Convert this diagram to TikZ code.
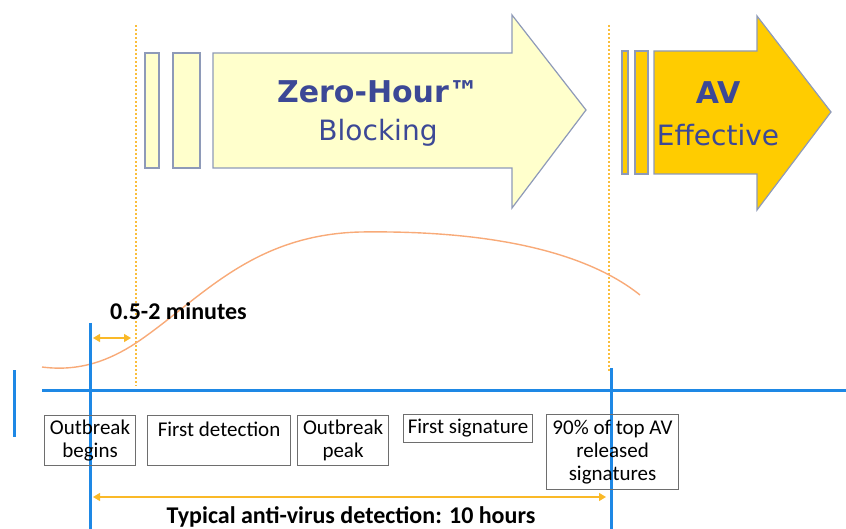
\documentclass[tikz,border=0pt]{standalone}
\usepackage{fontspec}
\setmainfont{Carlito}
\newfontfamily\arrowfont{DejaVu Sans}
\usetikzlibrary{arrows.meta}
\definecolor{paleyel}{RGB}{255,255,204}
\definecolor{gold}{RGB}{255,204,0}
\definecolor{outl}{RGB}{142,154,184}
\definecolor{navy}{RGB}{60,72,150}
\definecolor{blueln}{RGB}{30,136,229}
\definecolor{dotor}{RGB}{250,190,60}
\definecolor{curveor}{RGB}{248,170,120}
\definecolor{arror}{RGB}{250,185,40}
\definecolor{boxgr}{RGB}{110,110,110}
\tikzset{
  arrshape/.style={draw=outl, line width=1.2pt},
  bigtxt/.style={font=\arrowfont\fontsize{30}{32}\selectfont\bfseries, text=navy, inner sep=0pt},
  smalltxt/.style={font=\arrowfont\fontsize{28}{30}\selectfont, text=navy, inner sep=0pt},
  timeline/.style={draw=blueln, line width=3pt},
  guide/.style={draw=dotor, line width=1.3pt, dash pattern=on 2pt off 2pt},
  evbox/.style={draw=boxgr, line width=1.1pt, inner xsep=1pt, inner ysep=0pt, font=\fontsize{21}{23}\selectfont, align=center, anchor=north west},
  span/.style={draw=arror, line width=1.3pt, {Triangle[width=8pt,length=7pt]}-{Triangle[width=8pt,length=7pt]}},
  lbl/.style={font=\fontsize{24}{26}\selectfont\bfseries, inner sep=0pt}
}
\begin{document}
\begin{tikzpicture}[x=1pt,y=-1pt]
\useasboundingbox (0,0) rectangle (846,529);
% guides
\draw[guide] (136,25) -- (136,386);
\draw[guide] (609,25) -- (609,372);
% Zero-hour arrow
\draw[arrshape, fill=paleyel] (145,53) rectangle (159,168);
\draw[arrshape, fill=paleyel] (173,53) rectangle (200,168);
\draw[arrshape, fill=paleyel] (213,53) -- (512,53) -- (512,15) -- (586,110) -- (512,208) -- (512,168) -- (213,168) -- cycle;
\node[bigtxt] (zh) at (378,92) {Zero-Hour™};
\node[smalltxt] (blk) at (378,133) {Blocking};
% AV arrow
\draw[arrshape, fill=gold] (622,51) rectangle (628,174);
\draw[arrshape, fill=gold] (635,51) rectangle (648,174);
\draw[arrshape, fill=gold] (654,51) -- (757,51) -- (757,16) -- (831,112) -- (757,210) -- (757,174) -- (654,174) -- cycle;
\node[bigtxt] (av) at (718,93) {AV};
\node[smalltxt] (eff) at (718,135) {Effective};
% curve
\draw[curveor, line width=1.4pt] (42,367) .. controls (80,372) and (110,360) .. (136,343) .. controls (200,300) and (250,235) .. (360,232) .. controls (500,230) and (590,255) .. (640,295);
% timeline
\draw[timeline] (14,370) -- (14,437);
\draw[timeline] (42,390) -- (846,390);
\draw[timeline] (90,323) -- (90,529);
\draw[timeline] (611,368) -- (611,529);
% events
\node[evbox, minimum width=91pt, minimum height=50pt] (ob) at (44,415) {Outbreak\\begins};
\node[evbox, minimum width=143pt, minimum height=50pt] (fd) at (147,415) {First detection\\\mbox{}};
\node[evbox, minimum width=91pt, minimum height=50pt] (op) at (297,415) {Outbreak\\peak};
\node[evbox, minimum width=129pt, minimum height=28pt] (fs) at (403,414) {First signature};
\node[evbox, minimum width=132pt, minimum height=75pt] (nin) at (546,414) {90\% of top AV\\released\\signatures};
% spans
\coordinate (m1) at (93,338);
\coordinate (m2) at (131,338);
\draw[span] (m1) -- (m2);
\node[lbl, anchor=west] (mins) at (110,311) {0.5-2 minutes};
\coordinate (t1) at (93,497);
\coordinate (t2) at (606,497);
\draw[span] (t1) -- (t2);
\node[lbl] (typ) at (351,517) {Typical anti-virus detection: 10 hours};
\end{tikzpicture}
\end{document}
